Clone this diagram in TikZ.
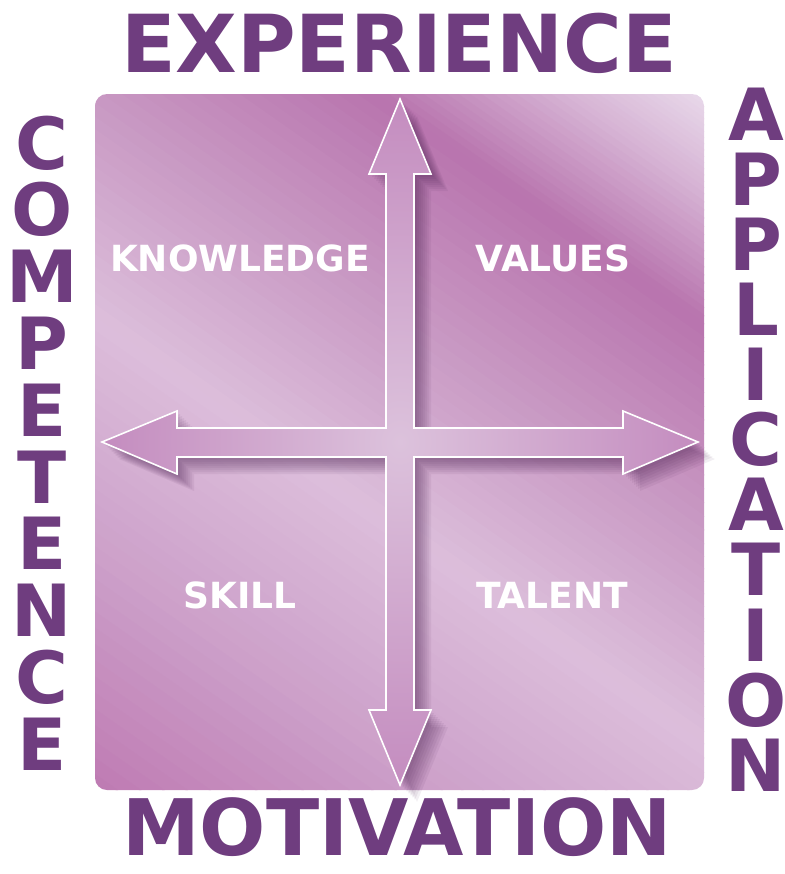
\documentclass[tikz,border=0pt]{standalone}
\usepackage{fontspec}
\setmainfont{DejaVu Sans}

\definecolor{titlepurple}{HTML}{6F3D7F}
\definecolor{bgA}{HTML}{E9DAEB}
\definecolor{bgB}{HTML}{D6B3D4}
\definecolor{bgC}{HTML}{B874AE}
\definecolor{bgD}{HTML}{CA9CC5}
\definecolor{bgE}{HTML}{DCBEDB}
\definecolor{bgF}{HTML}{CDA1CA}
\definecolor{bgG}{HTML}{BD78B1}
\definecolor{arrowIn}{HTML}{DCC2DC}
\definecolor{arrowOut}{HTML}{C48CBF}
\definecolor{arrowshadow}{HTML}{4A2050}

% outline of the four-way arrow, in pixel units
\newcommand{\crosspath}{(400,99) -- (431,174) -- (414,174) -- (414,428) -- (623,428) -- (623,411) -- (698,442) -- (623,474) -- (623,457) -- (414,457) -- (414,710) -- (431,710) -- (400,785) -- (369,710) -- (386,710) -- (386,457) -- (177,457) -- (177,474) -- (102,442) -- (177,411) -- (177,428) -- (386,428) -- (386,174) -- (369,174) -- cycle}

\tikzset{
	title/.style={text=titlepurple, font=\bfseries\fontsize{40}{40}\selectfont, anchor=base, inner sep=0pt},
	stackword/.style={text=titlepurple, align=center, inner sep=0pt, anchor=center},
	quadlabel/.style={text=white, font=\bfseries\fontsize{18}{18}\selectfont, anchor=base, inner sep=0pt},
	crossarrow/.style={draw=white, line width=0.8pt, inner color=arrowIn, outer color=arrowOut},
}

\begin{document}
\begin{tikzpicture}[x=0.5pt,y=-0.5pt]
	\useasboundingbox (0,0) rectangle (785,874);

	% Panel:
	% The diagonal bands are thin strips clipped to the rounded square
	\begin{scope}
		\clip [rounded corners=6pt] (95,94) rectangle (704,790);
		\foreach \sa/\sb/\ca/\cb in {-400/-300/bgA/bgB, -300/-170/bgB/bgC, -170/50/bgC/bgD, 50/250/bgD/bgE, 250/480/bgE/bgF, 480/740/bgF/bgG}{
			\foreach \k in {0,...,15}{
				\pgfmathsetmacro{\lo}{\sa+(\sb-\sa)*\k/16}
				\pgfmathsetmacro{\hi}{\sa+(\sb-\sa)*(\k+1)/16+1.5}
				\pgfmathsetmacro{\mix}{100-100*(\k+0.5)/16}
				\fill [\ca!\mix!\cb] (0,\lo) -- (800,\lo+560) -- (800,\hi+560) -- (0,\hi) -- cycle;
			}
		}
	\end{scope}

	% Soft shadow of the arrows, then the arrows on top
	\foreach \d in {3,5,...,17}
		\fill [arrowshadow, opacity=0.07, shift={(\d,\d)}] \crosspath;
	\shadedraw [crossarrow] \crosspath;

	% Quadrant labels:
	\node [quadlabel] (knowledge) at (240,271) {KNOWLEDGE};
	\node [quadlabel] (values)    at (553,271) {VALUES};
	\node [quadlabel] (skill)     at (240,608) {SKILL};
	\node [quadlabel] (talent)    at (552,608) {TALENT};

	% Outer titles:
	\node [title] (experience) at (399,72)  {EXPERIENCE};
	\node [title, font=\bfseries\fontsize{39}{39}\selectfont] (motivation) at (397,855) {MOTIVATION};

	% Stacked letters on both sides
	\node [stackword, font=\bfseries\fontsize{36}{33.4}\selectfont] (competence) at (42,443)
		{C\\O\\M\\P\\E\\T\\E\\N\\C\\E};
	\node [stackword, font=\bfseries\fontsize{36}{32.55}\selectfont] (application) at (756,439.5)
		{A\\P\\P\\L\\I\\C\\A\\T\\I\\O\\N};
\end{tikzpicture}
\end{document}
